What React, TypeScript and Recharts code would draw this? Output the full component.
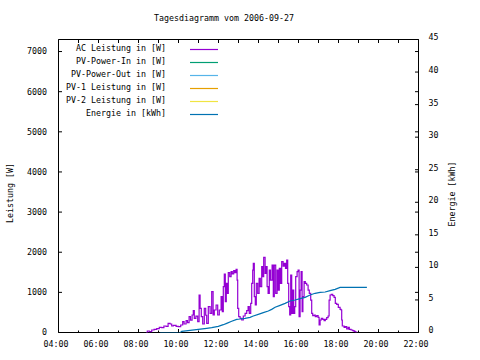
import React from 'react';
import { LineChart, Line, XAxis, YAxis, Legend, ReferenceArea } from 'recharts';

const FONT = '"DejaVu Sans Mono", monospace';
const FONT_SIZE = 8.3;

// AC-Leistung (Uhrzeit in Stunden / Watt)
const acHours = [
  8.38, 8.44, 8.54, 8.66, 8.78, 8.91, 9.04, 9.16, 9.27, 9.38, 9.48, 9.58, 9.66, 9.74, 9.88, 9.99,
  10.11, 10.21, 10.28, 10.38, 10.45, 10.53, 10.6, 10.68, 10.74, 10.79, 10.87, 10.96, 11.03, 11.08,
  11.14, 11.21, 11.29, 11.36, 11.41, 11.49, 11.58, 11.66, 11.73, 11.79, 11.88, 11.96, 12.04, 12.13,
  12.19, 12.24, 12.29, 12.34, 12.39, 12.44, 12.49, 12.56, 12.63, 12.69, 12.76, 12.82, 12.88, 12.93,
  12.96, 13.01, 13.08, 13.16, 13.24, 13.33, 13.41, 13.48, 13.54, 13.61, 13.66, 13.71, 13.74, 13.79,
  13.84, 13.89, 13.96, 14.03, 14.09, 14.16, 14.21, 14.26, 14.33, 14.38, 14.43, 14.48, 14.54, 14.6,
  14.68, 14.74, 14.79, 14.86, 14.93, 14.99, 15.04, 15.1, 15.16, 15.23, 15.29, 15.35, 15.41, 15.46,
  15.51, 15.56, 15.61, 15.66, 15.71, 15.76, 15.81, 15.86, 15.93, 15.98, 16.03, 16.08, 16.13, 16.18,
  16.22, 16.28, 16.34, 16.41, 16.48, 16.54, 16.61, 16.66, 16.71, 16.78, 16.84, 16.91, 16.98, 17.03,
  17.08, 17.14, 17.21, 17.28, 17.34, 17.41, 17.48, 17.53, 17.58, 17.64, 17.71, 17.78, 17.84, 17.91,
  17.99, 18.08, 18.13, 18.16, 18.19, 18.28, 18.34, 18.41, 18.48, 18.54, 18.63, 18.71, 18.78, 18.84,
  18.91,
];
const acWatts = [
  0, 37, 20, 62, 79, 95, 129, 120, 162, 154, 228, 212, 162, 178, 154, 145,
  187, 270, 212, 295, 245, 394, 310, 436, 544, 350, 410, 270, 934, 602,
  395, 212, 602, 430, 228, 643, 477, 1017, 436, 560, 685, 436, 560, 892,
  519, 1141, 1457, 768, 1224, 975, 1490, 1390, 1515, 1460, 1540, 1490, 1573, 1307,
  602, 394, 353, 311, 411, 477, 544, 643, 477, 726, 1224, 1556, 1722, 892,
  685, 1224, 975, 1349, 1141, 1639, 1390, 1872, 1473, 1639, 1141, 975, 1556, 1307,
  1681, 892, 1681, 975, 1556, 1058, 1598, 1224, 1764, 1656, 1722, 1598, 1805, 1224,
  643, 436, 1432, 477, 1058, 477, 643, 1390, 1515, 1556, 394, 1058, 1515, 519,
  892, 1266, 1224, 1183, 1058, 975, 809, 477, 419, 436, 394, 419, 378, 187,
  311, 353, 328, 295, 328, 369, 411, 809, 934, 950, 917, 875, 726, 701,
  627, 577, 560, 311, 162, 129, 145, 87, 129, 79, 62, 46, 29, 12,
  0,
];

// Tagesenergie (Uhrzeit in Stunden / kWh)
const energyHours = [
  9.08, 10.1, 10.16, 10.58, 10.99, 11.41, 11.66, 11.99, 12.24, 12.41, 12.66, 12.91, 13.08, 13.33, 13.58,
  13.74, 13.99, 14.24, 14.49, 14.66, 14.83, 15.08, 15.33, 15.58, 15.83, 16.08, 16.33, 16.58, 16.83,
  17.08, 17.33, 17.58, 17.83, 18.08, 19.42,
];
const energyKwh = [
  0, 0, 0.18, 0.33, 0.49, 0.64, 0.74, 0.95, 1.2, 1.41, 1.72, 2.02, 2.07, 2.18, 2.33,
  2.53, 2.79, 3.05, 3.3, 3.55, 3.87, 4.17, 4.48, 4.84, 4.99, 5.2, 5.4, 5.76, 6.02,
  6.17, 6.22, 6.43, 6.63, 6.92, 6.92,
];

const hourTicks = [4, 5, 6, 7, 8, 9, 10, 11, 12, 13, 14, 15, 16, 17, 18, 19, 20, 21, 22];
const wattTicks = [0, 1000, 2000, 3000, 4000, 5000, 6000, 7000];
const energyTicks = [0, 5, 10, 15, 20, 25, 30, 35, 40, 45];

const seriesNames = [
  'AC Leistung in [W]',
  'PV-Power-In in [W]',
  'PV-Power-Out in [W]',
  'PV-1 Leistung in [W]',
  'PV-2 Leistung in [W]',
  'Energie in [kWh]',
];
const seriesColors = ['#9400d3', '#009e73', '#56b4e9', '#e69f00', '#f0e442', '#0072b2'];

const acData = acHours.map((h, i) => ({ h, v: acWatts[i] }));
const energyData = energyHours.map((h, i) => ({ h, v: energyKwh[i] }));

const PLOT_W = 360;
const PLOT_H = 293;

const textProps = { fontFamily: FONT, fontSize: FONT_SIZE, fill: '#000' };

const fmtHour = (h: number) => `${String(h).padStart(2, '0')}:00`;

// gnuplot-artige Ticks: nach innen, gespiegelt auf die Gegenseite
const HourTick = (props: any) => {
  const { x, y, payload } = props;
  const major = payload.value % 2 === 0;
  return (
    <g>
      <line x1={x} y1={y} x2={x} y2={y - (major ? 3.5 : 2)} stroke="#000" />
      <line x1={x} y1={y - PLOT_H} x2={x} y2={y - PLOT_H + 3.5} stroke="#000" />
      {major && (
        <text x={x - 2.5} y={y + 14.5} textAnchor="middle" {...textProps}>
          {fmtHour(payload.value)}
        </text>
      )}
    </g>
  );
};

const WattTick = (props: any) => {
  const { x, y, payload } = props;
  return (
    <g>
      <line x1={x} y1={y} x2={x + 3.5} y2={y} stroke="#000" />
      <line x1={x + PLOT_W} y1={y} x2={x + PLOT_W - 3.5} y2={y} stroke="#000" />
      <text x={x - 11.5} y={y} dy="0.35em" textAnchor="end" {...textProps}>
        {payload.value}
      </text>
    </g>
  );
};

const EnergyTick = (props: any) => {
  const { x, y, payload } = props;
  return (
    <g>
      <line x1={x} y1={y} x2={x - 3.5} y2={y} stroke="#000" />
      <text x={x + 10} y={y - 2} dy="0.35em" textAnchor="start" {...textProps}>
        {payload.value}
      </text>
    </g>
  );
};

const LegendBox = (props: any) => {
  const items = [...(props.payload || [])].sort(
    (a: any, b: any) => seriesNames.indexOf(a.value) - seriesNames.indexOf(b.value)
  );
  return (
    <svg width={240} height={125} style={{ display: 'block' }}>
      {items.map((item: any, i: number) => {
        const ly = 49.5 + i * 13;
        return (
          <g key={item.value}>
            <text x={166} y={ly + 1} textAnchor="end" {...textProps}>
              {item.value}
            </text>
            <line x1={190} y1={ly} x2={218} y2={ly} stroke={item.color} strokeWidth={1.2} />
          </g>
        );
      })}
    </svg>
  );
};

const rotatedLabel = (left: number, top: number): React.CSSProperties => ({
  position: 'absolute',
  left,
  top,
  transform: 'translate(-50%, -50%) rotate(-90deg)',
  whiteSpace: 'nowrap',
  fontFamily: FONT,
  fontSize: FONT_SIZE,
  lineHeight: '10px',
});

export default function App() {
  return (
    <div style={{ position: 'absolute', left: 0, top: 0, width: 480, height: 360, background: '#fff' }}>
      <div
        style={{
          position: 'absolute',
          left: 0,
          top: 13,
          width: 448,
          textAlign: 'center',
          fontFamily: FONT,
          fontSize: FONT_SIZE,
          lineHeight: '10px',
        }}
      >
        Tagesdiagramm vom 2006-09-27
      </div>
      <div style={rotatedLabel(10, 193)}>Leistung [W]</div>
      <div style={rotatedLabel(452, 194)}>Energie [kWh]</div>

      <LineChart width={480} height={360} margin={{ top: 39.5, right: 0, bottom: 0, left: 0.5 }}>
        <XAxis
          xAxisId="t"
          type="number"
          dataKey="h"
          domain={[4, 22]}
          ticks={hourTicks}
          interval={0}
          height={27.5}
          tickSize={0}
          tickMargin={0}
          axisLine={false}
          tickLine={false}
          tick={HourTick}
          allowDataOverflow
        />
        <YAxis
          yAxisId="w"
          type="number"
          domain={[0, 7300]}
          ticks={wattTicks}
          interval={0}
          width={58}
          tickSize={0}
          tickMargin={0}
          axisLine={false}
          tickLine={false}
          tick={WattTick}
          allowDataOverflow
        />
        <YAxis
          yAxisId="e"
          orientation="right"
          type="number"
          domain={[0, 45]}
          ticks={energyTicks}
          interval={0}
          width={61.5}
          tickSize={0}
          tickMargin={0}
          axisLine={false}
          tickLine={false}
          tick={EnergyTick}
          allowDataOverflow
        />
        <Legend
          layout="vertical"
          align="center"
          verticalAlign="middle"
          content={LegendBox}
          wrapperStyle={{ left: 0, top: 0, width: 240, height: 125 }}
        />
        <Line
          xAxisId="t"
          yAxisId="w"
          data={acData}
          dataKey="v"
          name={seriesNames[0]}
          type="stepAfter"
          stroke={seriesColors[0]}
          strokeWidth={1.2}
          dot={false}
          isAnimationActive={false}
        />
        <Line xAxisId="t" yAxisId="w" data={[]} dataKey="v" name={seriesNames[1]} stroke={seriesColors[1]} dot={false} isAnimationActive={false} />
        <Line xAxisId="t" yAxisId="w" data={[]} dataKey="v" name={seriesNames[2]} stroke={seriesColors[2]} dot={false} isAnimationActive={false} />
        <Line xAxisId="t" yAxisId="w" data={[]} dataKey="v" name={seriesNames[3]} stroke={seriesColors[3]} dot={false} isAnimationActive={false} />
        <Line xAxisId="t" yAxisId="w" data={[]} dataKey="v" name={seriesNames[4]} stroke={seriesColors[4]} dot={false} isAnimationActive={false} />
        <Line
          xAxisId="t"
          yAxisId="e"
          data={energyData}
          dataKey="v"
          name={seriesNames[5]}
          type="linear"
          stroke={seriesColors[5]}
          strokeWidth={1.2}
          dot={false}
          isAnimationActive={false}
        />
        <ReferenceArea
          xAxisId="t"
          yAxisId="w"
          x1={4}
          x2={22}
          y1={0}
          y2={7300}
          fill="none"
          fillOpacity={0}
          stroke="#000"
          strokeWidth={1}
        />
      </LineChart>
    </div>
  );
}
